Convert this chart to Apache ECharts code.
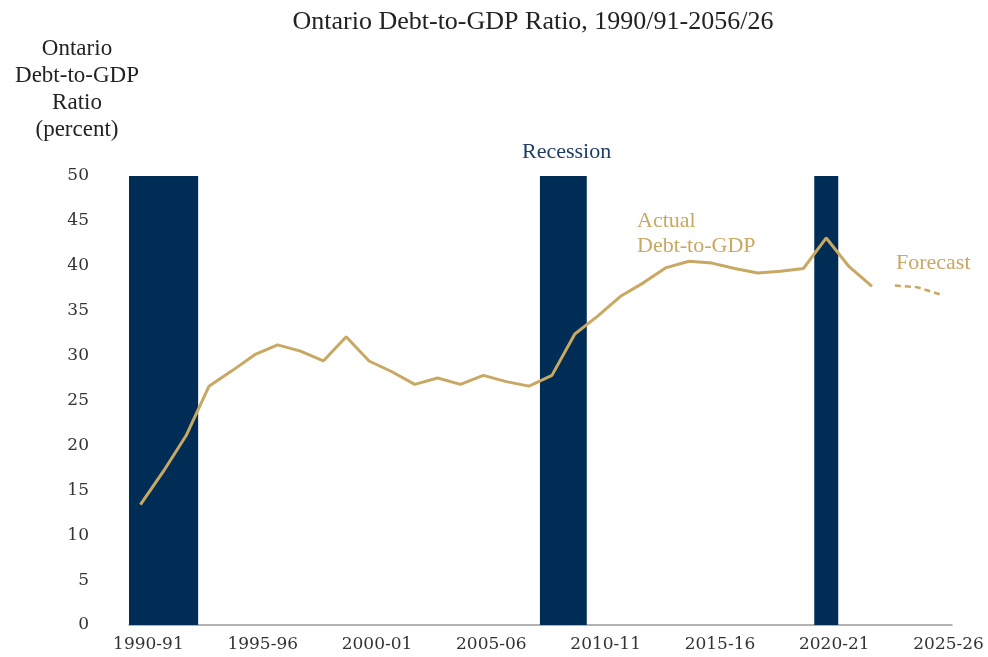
<!DOCTYPE html>
<html>
<head>
<meta charset="utf-8">
<script src="https://cdn.jsdelivr.net/npm/echarts@6/dist/echarts.min.js"></script>
<style>
  html, body { margin: 0; padding: 0; background: #fff; }
  #chart { width: 988px; height: 657px; }
</style>
</head>
<body>
<div id="chart"></div>
<script>
// fiscal years on the x axis
const years = [
  '1990-91', '1991-92', '1992-93', '1993-94', '1994-95', '1995-96', '1996-97', '1997-98',
  '1998-99', '1999-00', '2000-01', '2001-02', '2002-03', '2003-04', '2004-05', '2005-06',
  '2006-07', '2007-08', '2008-09', '2009-10', '2010-11', '2011-12', '2012-13', '2013-14',
  '2014-15', '2015-16', '2016-17', '2017-18', '2018-19', '2019-20', '2020-21', '2021-22',
  '2022-23', '2023-24', '2024-25', '2025-26'
]

// actual debt-to-GDP, 1990-91 .. 2022-23
const actual = [
  13.4, 17.1, 21.1, 26.6, 28.3, 30.1, 31.2, 30.5, 29.4, 32.1, 29.4, 28.2, 26.8, 27.5,
  26.8, 27.8, 27.1, 26.6, 27.8, 32.4, 34.4, 36.6, 38.1, 39.8, 40.5, 40.3, 39.7, 39.2,
  39.4, 39.7, 43.1, 39.9, 37.7
]

// forecast, 2023-24 .. 2025-26
const forecastYears = ['2023-24', '2024-25', '2025-26']
const forecast = [37.8, 37.6, 36.8]

// recession years, shaded up to the axis max
const recessionYears = ['1990-91', '1991-92', '1992-93', '2008-09', '2009-10', '2020-21']
const recessionTop = 50

const yTicks = { min: 0, max: 50, interval: 5 }

const GOLD = '#C8A862'
const NAVY = '#002D56'
const SERIF = '"Liberation Serif", serif'

const actualData = years.map((y, i) => (i < actual.length ? actual[i] : null))
const forecastData = years.map(y => {
  const k = forecastYears.indexOf(y)
  return k >= 0 ? forecast[k] : null
})
const recessionData = years.map(y => (recessionYears.includes(y) ? recessionTop : null))

const chart = echarts.init(document.getElementById('chart'))

chart.setOption({
  backgroundColor: '#fff',
  animation: false,
  title: {
    text: 'Ontario Debt-to-GDP Ratio, 1990/91-2056/26',
    left: 528,
    top: 4,
    textAlign: 'center',
    textStyle: { fontFamily: SERIF, fontSize: 26, fontWeight: 'normal', color: '#222' }
  },
  grid: { left: 129, right: 36, top: 176, bottom: 32 },
  xAxis: {
    type: 'category',
    data: years,
    boundaryGap: true,
    axisLine: { lineStyle: { color: '#999', width: 1.5 } },
    axisTick: { show: false },
    axisLabel: {
      interval: 4,
      margin: 11,
      padding: [0, 0, 0, 16],
      fontFamily: '"DejaVu Serif", serif',
      fontSize: 17,
      color: '#333'
    },
    splitLine: { show: false }
  },
  yAxis: {
    type: 'value',
    min: yTicks.min,
    max: yTicks.max,
    interval: yTicks.interval,
    axisLine: { show: false },
    axisTick: { show: false },
    splitLine: { show: false },
    axisLabel: {
      margin: 40,
      fontFamily: '"DejaVu Serif", serif',
      fontSize: 17,
      color: '#333'
    }
  },
  series: [
    {
      // slightly wider than a band so neighbouring years join without seams
      name: 'Recession',
      type: 'bar',
      data: recessionData,
      barWidth: 24,
      itemStyle: { color: NAVY },
      z: 1
    },
    {
      name: 'Actual',
      type: 'line',
      data: actualData,
      symbol: 'none',
      lineStyle: { color: GOLD, width: 3 },
      z: 3
    },
    {
      name: 'Forecast',
      type: 'line',
      data: forecastData,
      symbol: 'none',
      lineStyle: { color: GOLD, width: 2.5, type: [6, 4] },
      z: 3
    }
  ],
  graphic: [
    {
      type: 'text',
      x: 77,
      y: 35,
      style: {
        text: 'Ontario\nDebt-to-GDP\nRatio\n(percent)',
        fontFamily: SERIF,
        fontSize: 23,
        lineHeight: 27,
        fill: '#222',
        align: 'center'
      }
    },
    {
      type: 'text',
      left: 522,
      top: 141,
      style: { text: 'Recession', fontFamily: SERIF, fontSize: 22, fill: '#1F3D66' }
    },
    {
      type: 'text',
      left: 637,
      top: 209,
      style: {
        text: 'Actual\nDebt-to-GDP',
        fontFamily: SERIF,
        fontSize: 22,
        lineHeight: 25,
        fill: GOLD
      }
    },
    {
      type: 'text',
      left: 896,
      top: 252,
      style: { text: 'Forecast', fontFamily: SERIF, fontSize: 22, fill: GOLD }
    }
  ]
})

window.addEventListener('resize', () => chart.resize())
</script>
</body>
</html>
